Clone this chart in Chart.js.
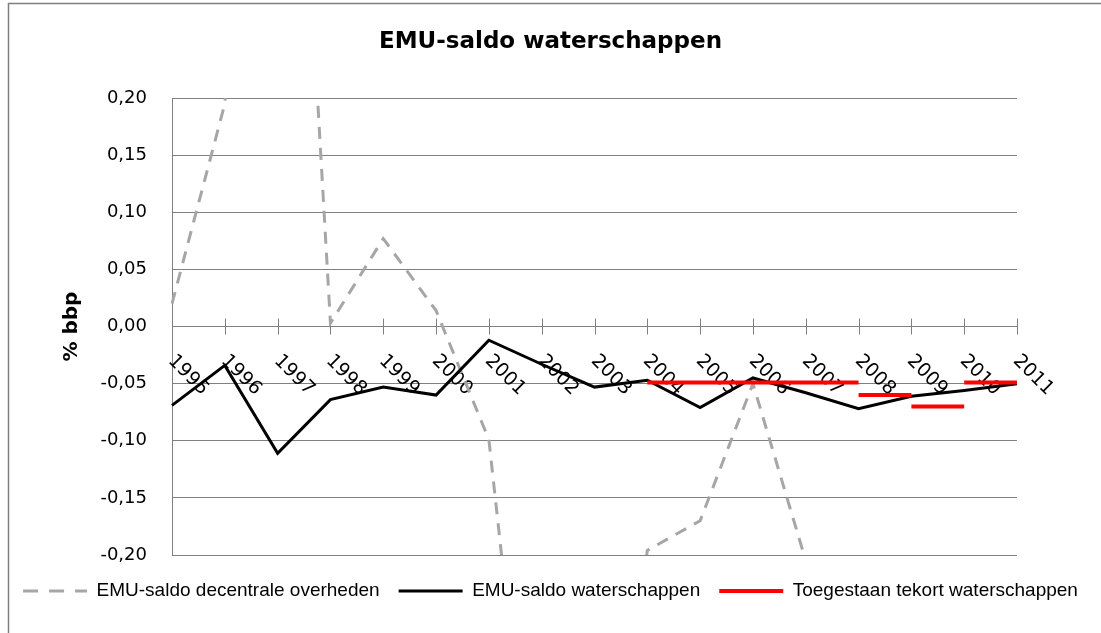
<!DOCTYPE html>
<html>
<head>
<meta charset="utf-8">
<script src="https://cdn.jsdelivr.net/npm/chart.js@4/dist/chart.umd.min.js"></script>
<style>
  body { margin: 0; background: #fff; }
</style>
</head>
<body>
<canvas id="emuChart" width="1101" height="633"></canvas>
<script>
// Jaren
const years = ['1995', '1996', '1997', '1998', '1999', '2000', '2001', '2002', '2003',
  '2004', '2005', '2006', '2007', '2008', '2009', '2010', '2011'];

// EMU-saldo decentrale overheden (loopt buiten de schaal)
const decentraal = [0.02, 0.195, 0.81, 0.003, 0.077, 0.014, -0.099, -0.52, -0.55,
  -0.196, -0.17, -0.05, -0.205, null, null, null, null];

// EMU-saldo waterschappen
const waterschappen = [-0.069, -0.034, -0.111, -0.064, -0.053, -0.06, -0.012, -0.033, -0.053,
  -0.047, -0.071, -0.045, -0.058, -0.072, -0.061, -0.056, -0.05];

// Toegestaan tekort waterschappen (losse stukken)
const tekort1 = [null, null, null, null, null, null, null, null, null,
  -0.049, -0.049, -0.049, -0.049, -0.049, null, null, null];
const tekort2 = [null, null, null, null, null, null, null, null, null,
  null, null, null, null, -0.06, -0.06, null, null];
const tekort3 = [null, null, null, null, null, null, null, null, null,
  null, null, null, null, null, -0.07, -0.07, null];
const tekort4 = [null, null, null, null, null, null, null, null, null,
  null, null, null, null, null, null, -0.049, -0.049];

const yTicks = { min: -0.2, max: 0.2, step: 0.05 };

Chart.defaults.font.family = '"DejaVu Sans", sans-serif';
Chart.defaults.color = '#000';

// kader + witte achtergrond
const frame = {
  id: 'frame',
  beforeDraw(chart) {
    const ctx = chart.ctx;
    ctx.save();
    ctx.fillStyle = '#fff';
    ctx.fillRect(0, 0, chart.width, chart.height);
    ctx.strokeStyle = '#7f7f7f';
    ctx.lineWidth = 1.5;
    ctx.strokeRect(8.5, 3.5, chart.width + 10, chart.height + 10);
    ctx.restore();
  }
};

// jaartallen schuin langs de nullijn
const xAxisOnZero = {
  id: 'xAxisOnZero',
  beforeDatasetsDraw(chart) {
    const { ctx, scales: { x, y } } = chart;
    const y0 = y.getPixelForValue(0);
    ctx.save();
    ctx.strokeStyle = '#808080';
    ctx.lineWidth = 1;
    ctx.font = '19px "DejaVu Sans"';
    ctx.fillStyle = '#000';
    ctx.textAlign = 'left';
    ctx.textBaseline = 'alphabetic';
    years.forEach((yr, i) => {
      const px = Math.round(x.getPixelForValue(i)) + 0.5;
      ctx.beginPath();
      ctx.moveTo(px, y0 - 8);
      ctx.lineTo(px, y0 + 8);
      ctx.stroke();
      ctx.save();
      ctx.translate(px - 5, y0 + 35);
      ctx.rotate(Math.PI / 4);
      ctx.fillText(yr, 0, 0);
      ctx.restore();
    });
    ctx.restore();
  }
};

const red = {
  borderColor: '#ff0000',
  backgroundColor: '#ff0000',
  borderWidth: 4,
  pointRadius: 0,
  pointStyle: 'line',
  order: 0
};

const ctx = document.getElementById('emuChart').getContext('2d');
const emuChart = new Chart(ctx, {
  type: 'line',
  data: {
    labels: years,
    datasets: [
      {
        label: 'EMU-saldo decentrale overheden',
        data: decentraal,
        borderColor: '#a6a6a6',
        backgroundColor: '#a6a6a6',
        borderWidth: 3,
        borderDash: [12, 9],
        pointRadius: 0,
        pointStyle: 'line',
        order: 2
      },
      {
        label: 'EMU-saldo waterschappen',
        data: waterschappen,
        borderColor: '#000000',
        backgroundColor: '#000000',
        borderWidth: 3,
        pointRadius: 0,
        pointStyle: 'line',
        order: 1
      },
      { label: 'Toegestaan tekort waterschappen', data: tekort1, ...red },
      { label: 'Toegestaan tekort waterschappen', data: tekort2, ...red },
      { label: 'Toegestaan tekort waterschappen', data: tekort3, ...red },
      { label: 'Toegestaan tekort waterschappen', data: tekort4, ...red },
    ],
  },
  options: {
    responsive: false,
    animation: false,
    layout: { padding: { left: 0, right: 0, top: 0, bottom: 22.5 } },
    elements: { line: { tension: 0 } },
    scales: {
      x: {
        offset: false,
        grid: { display: false },
        border: { display: false },
        ticks: { display: false },
        afterFit: (scale) => { scale.height = 7.5; },
      },
      y: {
        min: yTicks.min,
        max: yTicks.max,
        ticks: {
          stepSize: yTicks.step,
          padding: 25,
          font: { size: 18 },
          callback: (v) => (Math.abs(v) < 1e-9 ? 0 : v).toFixed(2).replace('.', ','),
        },
        grid: { color: '#808080', lineWidth: 1, drawTicks: false },
        border: { color: '#808080', width: 1 },
        title: {
          display: true,
          text: '% bbp',
          font: { size: 20, weight: 'bold' },
          padding: { top: 60 },
        },
        afterFit: (scale) => { scale.width = 172; },
      },
      rechts: {
        position: 'right',
        display: true,
        grid: { display: false },
        border: { display: false },
        ticks: { display: false },
        afterFit: (scale) => { scale.width = 84; },
      },
    },
    plugins: {
      title: {
        display: true,
        text: 'EMU-saldo waterschappen',
        font: { size: 23, weight: 'bold' },
        padding: { top: 28.5, bottom: 42 },
      },
      legend: {
        position: 'bottom',
        labels: {
          usePointStyle: true,
          pointStyleWidth: 64,
          padding: 19,
          font: { family: '"Liberation Sans", sans-serif', size: 19 },
          generateLabels: (chart) => {
            const items = Chart.defaults.plugins.legend.labels.generateLabels(chart);
            items.forEach((item) => {
              if (chart.data.datasets[item.datasetIndex].borderDash) item.lineDash = [15, 11];
            });
            return items;
          },
          filter: (item) => item.datasetIndex < 3,
          sort: (a, b) => a.datasetIndex - b.datasetIndex,
        },
      },
      tooltip: { enabled: false },
    },
  },
  plugins: [frame, xAxisOnZero],
});
</script>
</body>
</html>
